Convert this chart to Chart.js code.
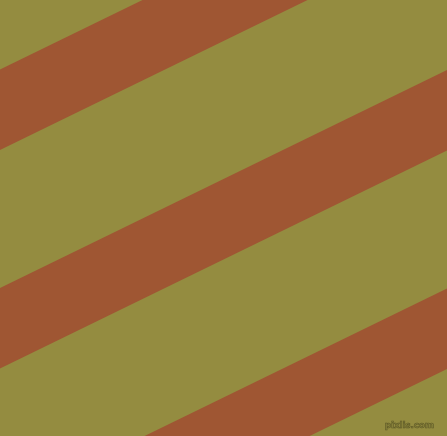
<!DOCTYPE html>
<html>
<head>
<meta charset="utf-8">
<script src="https://cdn.jsdelivr.net/npm/chart.js@4.4.1/dist/chart.umd.min.js"></script>
<style>
    html, body { margin: 0; padding: 0; overflow: hidden; background: #948c40; }
    #wrap { position: relative; width: 447px; height: 436px; }
    #mark {
        position: absolute; right: 13px; bottom: 6px;
        font: bold 9px "DejaVu Sans", sans-serif; letter-spacing: -0.2px;
        color: #8a843c; -webkit-text-stroke: 0.6px #5d5826;
    }
</style>
</head>
<body>
<div id="wrap">
    <canvas id="stripes" width="447" height="436"></canvas>
    <div id="mark">pixlis.com</div>
</div>
<script>
// x where each edge is sampled (left and right border)
const edgeX = [0, 447];
// upper / lower edge of each brown band, y at the left and right border
const bandTopLeft = [69.5, 288, 506.5];
const bandTopRight = [-148.5, 70, 288.5];
const bandBottomLeft = [150, 368.5, 587];
const bandBottomRight = [-68, 150.5, 369];

const olive = "#948c40";
const brown = "#9f5633";

const datasets = [];
bandTopLeft.forEach((_, i) => {
    datasets.push({
        data: [{ x: edgeX[0], y: bandTopLeft[i] }, { x: edgeX[1], y: bandTopRight[i] }],
        borderWidth: 0,
        pointRadius: 0,
        fill: false
    });
    datasets.push({
        data: [{ x: edgeX[0], y: bandBottomLeft[i] }, { x: edgeX[1], y: bandBottomRight[i] }],
        borderWidth: 0,
        pointRadius: 0,
        backgroundColor: brown,
        fill: "-1"
    });
});

const ctx = document.getElementById("stripes").getContext("2d");
new Chart(ctx, {
    type: "line",
    data: { datasets },
    options: {
        responsive: false,
        animation: false,
        layout: { padding: 0 },
        plugins: { legend: { display: false }, tooltip: { enabled: false } },
        scales: {
            x: { type: "linear", min: 0, max: 447, display: false },
            y: { type: "linear", min: 0, max: 436, reverse: true, display: false }
        }
    },
    plugins: [{
        id: "bg",
        beforeDraw(chart) {
            const c = chart.ctx;
            c.save();
            c.fillStyle = olive;
            c.fillRect(0, 0, chart.width, chart.height);
            c.restore();
        }
    }]
});
</script>
</body>
</html>
